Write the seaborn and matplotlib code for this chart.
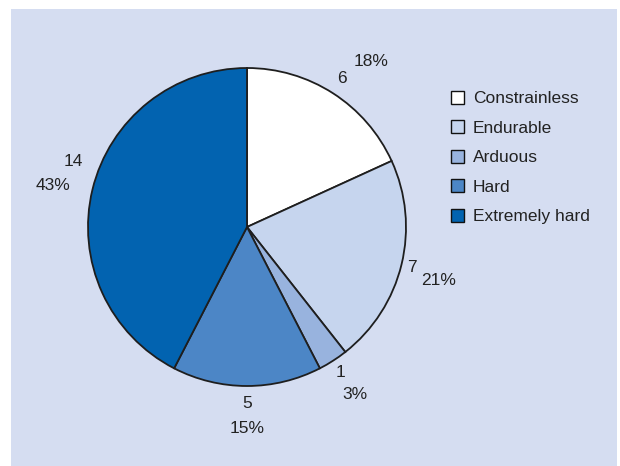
import matplotlib
matplotlib.use("Agg")
import matplotlib.pyplot as plt
from matplotlib.patches import Patch, Rectangle
import seaborn as sns
import numpy as np

# Difficulty ratings and the number of responses for each
categories = ["Constrainless", "Endurable", "Arduous", "Hard", "Extremely hard"]
counts = [6, 7, 1, 5, 14]
percent_labels = ["18%", "21%", "3%", "15%", "43%"]

colors = ["#ffffff", "#c6d5ee", "#98b3de", "#4c86c6", "#0263b0"]
bg = "#d5ddf1"

sns.set_theme(style="white")
plt.rcParams["font.family"] = ["Liberation Sans", "DejaVu Sans"]

W, H = 620, 466
fig = plt.figure(figsize=(W / 100, H / 100), dpi=100)
fig.patch.set_facecolor("white")
fig.patches.append(Rectangle((11 / W, 0), (617 - 11) / W, (H - 9) / H,
                             transform=fig.transFigure, facecolor=bg,
                             edgecolor="none", zorder=-5))

cx, cy, r = 247, H - 227, 159
ax = fig.add_axes([(cx - r) / W, (cy - r) / H, 2 * r / W, 2 * r / H])
ax.set_facecolor("none")
ax.set_zorder(2)

wedges, _ = ax.pie(counts, colors=colors, startangle=90, counterclock=False,
                   radius=1.0,
                   wedgeprops=dict(edgecolor="#1e1e1e", linewidth=1.3))
ax.set_xlim(-1, 1)
ax.set_ylim(-1, 1)
ax.set_aspect("equal")
ax.axis("off")

# label placement: radial distance and angular nudge (degrees) per slice
value_dist = [1.11, 1.07, 1.09, 1.11, 1.17]
value_nudge = [0, 0, 0, 0, -7]
pct_dist = [1.30, 1.25, 1.25, 1.27, 1.25]
pct_nudge = [-4, -2, 0, 0, 1.5]

fs = 12.5
total = sum(counts)
start = 90.0
for i, c in enumerate(counts):
    span = 360.0 * c / total
    mid = start - span / 2
    start -= span
    a = np.deg2rad(mid + value_nudge[i])
    ax.text(value_dist[i] * np.cos(a), value_dist[i] * np.sin(a), str(c),
            ha="center", va="center", fontsize=fs, color="#222222",
            clip_on=False)
    a = np.deg2rad(mid + pct_nudge[i])
    ax.text(pct_dist[i] * np.cos(a), pct_dist[i] * np.sin(a), percent_labels[i],
            ha="center", va="center", fontsize=fs, color="#222222",
            clip_on=False)

handles = [Patch(facecolor=col, edgecolor="#111111", linewidth=1.0)
           for col in colors]
leg = fig.legend(handles, categories, loc="upper left",
                 bbox_to_anchor=(442 / W, (H - 82) / H), frameon=False,
                 fontsize=fs, handlelength=0.78, handleheight=0.78,
                 handletextpad=0.5, labelspacing=0.8, borderpad=0,
                 labelcolor="#222222")
leg.set_zorder(3)

fig.savefig("out.png", dpi=100, facecolor=fig.get_facecolor())
